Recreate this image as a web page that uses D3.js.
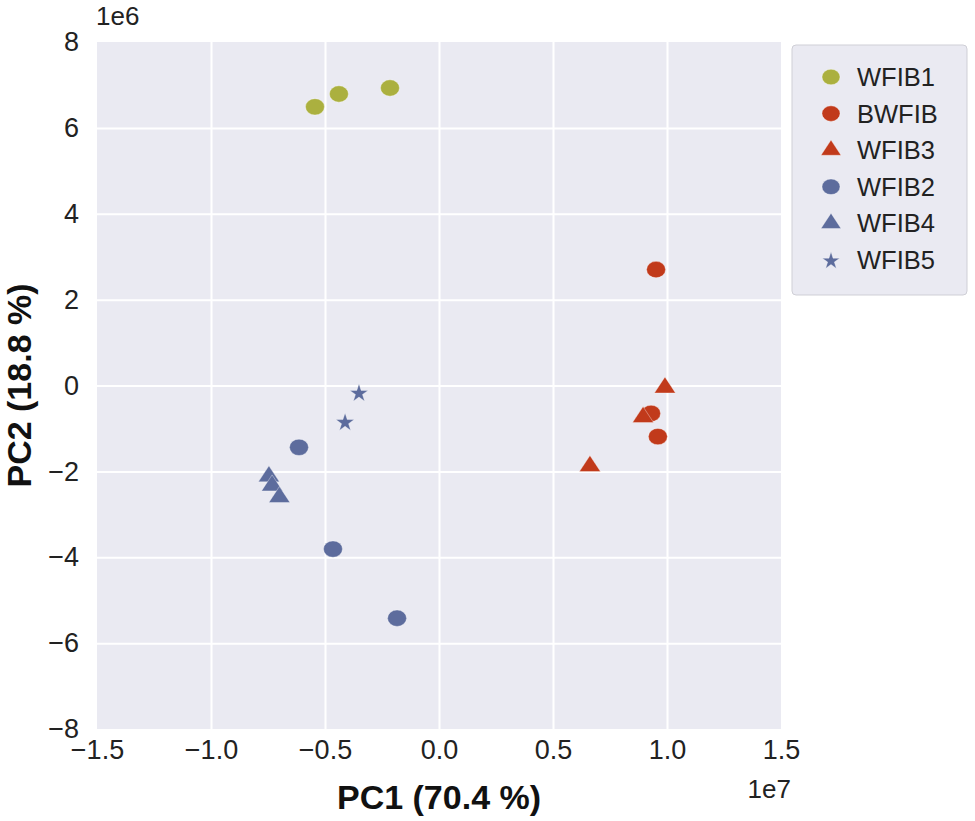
<!DOCTYPE html>
<html><head><meta charset="utf-8">
<script src="https://cdn.jsdelivr.net/npm/d3@7"></script>
<style>body{margin:0;background:#fff;}svg{display:block;font-family:"Liberation Sans",Arial,sans-serif;}</style>
</head><body>
<script>
const groups = ["WFIB1","BWFIB","WFIB3","WFIB2","WFIB4","WFIB5"];
const groupColors = ["#abb03f","#c13a1b","#c13a1b","#5d6c9d","#5d6c9d","#5d6c9d"];
const groupShapes = ["circle","circle","triangle","circle","triangle","star"];
// PC1 in units of 1e7, PC2 in units of 1e6
const pc1 = {
  WFIB1: [-0.544, -0.439, -0.215],
  BWFIB: [0.952, 0.93, 0.96],
  WFIB3: [0.991, 0.895, 0.662],
  WFIB2: [-0.614, -0.465, -0.184],
  WFIB4: [-0.746, -0.732, -0.70],
  WFIB5: [-0.351, -0.412]
};
const pc2 = {
  WFIB1: [6.49, 6.79, 6.93],
  BWFIB: [2.70, -0.65, -1.19],
  WFIB3: [-0.05, -0.74, -1.88],
  WFIB2: [-1.44, -3.81, -5.42],
  WFIB4: [-2.12, -2.33, -2.60],
  WFIB5: [-0.16, -0.84]
};
const xTicks = [-1.5,-1.0,-0.5,0.0,0.5,1.0,1.5];
const yTicks = [-8,-6,-4,-2,0,2,4,6,8];

const W = 975, H = 821;
const svg = d3.select("body").append("svg").attr("width", W).attr("height", H);
const L = 97, R = 781, T = 42, B = 729;
const x = d3.scaleLinear().domain([-1.5, 1.5]).range([L, R]);
const y = d3.scaleLinear().domain([-8, 8]).range([B, T]);

svg.append("rect").attr("x", L).attr("y", T).attr("width", R - L).attr("height", B - T).attr("fill", "#eaeaf2");

const fmtX = v => d3.format(".1f")(v).replace("-", "\u2212");
const fmtY = v => String(v).replace("-", "\u2212");

const gx = svg.append("g").attr("transform", `translate(0,${B})`)
  .call(d3.axisBottom(x).tickValues(xTicks).tickFormat(fmtX).tickSize(-(B - T)).tickPadding(11));
const gy = svg.append("g").attr("transform", `translate(${L},0)`)
  .call(d3.axisLeft(y).tickValues(yTicks).tickFormat(fmtY).tickSize(-(R - L)).tickPadding(18));
[gx, gy].forEach(g => {
  g.select(".domain").remove();
  g.selectAll(".tick line").attr("stroke", "#fff").attr("stroke-width", 2);
  g.selectAll(".tick text").attr("fill", "#222").attr("font-size", 27).attr("font-family", "Liberation Sans, Arial, sans-serif");
});
gx.selectAll(".tick").filter(d => d === -1.5 || d === 1.5).select("line").remove();
gy.selectAll(".tick").filter(d => d === -8 || d === 8).select("line").remove();

svg.append("text").attr("x", L - 1).attr("y", 25).attr("font-size", 26).attr("fill", "#222").text("1e6");
svg.append("text").attr("x", R + 10).attr("y", 798).attr("text-anchor", "end").attr("font-size", 26).attr("fill", "#222").text("1e7");

svg.append("text").attr("x", (L + R) / 2).attr("y", 809).attr("text-anchor", "middle")
  .attr("font-size", 34).attr("font-weight", "bold").attr("fill", "#111").text("PC1 (70.4 %)");
svg.append("text").attr("transform", `translate(31,${(T + B) / 2}) rotate(-90)`).attr("text-anchor", "middle")
  .attr("font-size", 34).attr("font-weight", "bold").attr("fill", "#111").text("PC2 (18.8 %)");

function marker(sel, shape, color, cx, cy, s) {
  s = s || 1;
  if (shape === "circle") {
    sel.append("ellipse").attr("cx", cx).attr("cy", cy).attr("rx", 9.5 * s).attr("ry", 8.2 * s)
      .attr("fill", color).attr("stroke", "#fff").attr("stroke-opacity", 0.6).attr("stroke-width", 0.6);
  } else if (shape === "triangle") {
    sel.append("path").attr("d", d3.symbol(d3.symbolTriangle, 175 * s * s)())
      .attr("transform", `translate(${cx},${cy}) scale(1.05,0.92)`)
      .attr("fill", color).attr("stroke", "#fff").attr("stroke-opacity", 0.6).attr("stroke-width", 0.6);
  } else {
    sel.append("path").attr("d", d3.symbol(d3.symbolStar, 105 * s * s)())
      .attr("transform", `translate(${cx},${cy + 1})`)
      .attr("fill", color).attr("stroke", "#fff").attr("stroke-opacity", 0.6).attr("stroke-width", 0.6);
  }
}

const pts = svg.append("g");
groups.forEach((g, i) => {
  pc1[g].forEach((v, j) => marker(pts, groupShapes[i], groupColors[i], x(v), y(pc2[g][j])));
});

// legend
const lg = svg.append("g");
lg.append("rect").attr("x", 792).attr("y", 45).attr("width", 175).attr("height", 250).attr("rx", 4)
  .attr("fill", "#eaeaf2").attr("stroke", "#cfcfd6").attr("stroke-width", 1);
groups.forEach((g, i) => {
  const cy = 77 + i * 36.6;
  marker(lg, groupShapes[i], groupColors[i], 831, cy, 0.95);
  lg.append("text").attr("x", 857).attr("y", cy + 9).attr("font-size", 25.5).attr("fill", "#222").text(g);
});
</script>
</body></html>
